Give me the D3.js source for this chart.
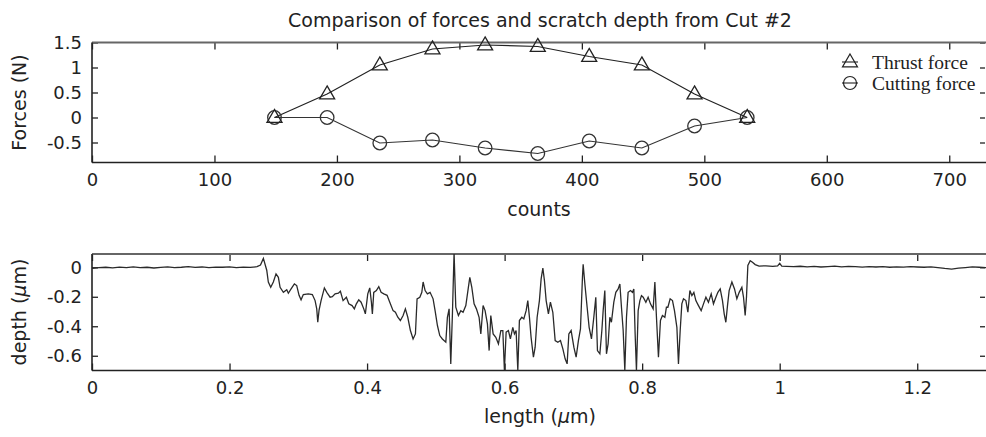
<!DOCTYPE html>
<html>
<head>
<meta charset="utf-8">
<script src="https://cdn.jsdelivr.net/npm/d3@7"></script>
<style>
  body { margin: 0; background: #fff; }
  svg { display: block; }
  text { font-family: "DejaVu Sans", sans-serif; fill: #222; }
</style>
</head>
<body>
<svg id="chart" width="986" height="437"></svg>
<script>
// ---- Force measurements along the cut ----
const forceCounts  = [149, 192, 235, 278, 321, 364, 406, 449, 492, 535];
const thrustForce  = [0, 0.47, 1.05, 1.37, 1.45, 1.42, 1.22, 1.05, 0.47, 0];
const cuttingForce = [0, 0.0, -0.51, -0.45, -0.61, -0.72, -0.47, -0.61, -0.17, 0];

// ---- Scratch depth profile ----
const depthLength = [
  0.000, 0.010, 0.020, 0.030, 0.040, 0.050, 0.060, 0.070, 0.080, 0.090,
  0.100, 0.110, 0.120, 0.130, 0.140, 0.150, 0.160, 0.170, 0.180, 0.190,
  0.200, 0.210, 0.220, 0.230, 0.240, 0.245,
  0.2492, 0.2541, 0.2564, 0.2599, 0.2637, 0.2676, 0.2710, 0.2735, 0.2783, 0.2832,
  0.2855, 0.2895, 0.2943, 0.2977, 0.3011, 0.3040, 0.3073, 0.3146, 0.3204, 0.3244,
  0.3268, 0.3283, 0.3302, 0.3331, 0.3379, 0.3414, 0.3462, 0.3495, 0.3535, 0.3583,
  0.3612, 0.3651, 0.3699, 0.3734, 0.3782, 0.3815, 0.3844, 0.3879, 0.3913, 0.3952,
  0.3975, 0.4010, 0.4039, 0.4063, 0.4077, 0.4097, 0.4135, 0.4170, 0.4204, 0.4243,
  0.4291, 0.4330, 0.4378, 0.4412, 0.4447, 0.4484, 0.4524, 0.4557, 0.4592, 0.4630,
  0.4669, 0.4703, 0.4727, 0.4767, 0.4796, 0.4815, 0.4844, 0.4877, 0.4916, 0.4960,
  0.4989, 0.5023, 0.5057, 0.5095, 0.5145, 0.5168, 0.5193, 0.5217, 0.5241, 0.5265,
  0.5290, 0.5328, 0.5363, 0.5396, 0.5436, 0.5473, 0.5494, 0.5523, 0.5556, 0.5590,
  0.5629, 0.5654, 0.5687, 0.5716, 0.5750, 0.5775, 0.5799, 0.5833, 0.5872, 0.5910,
  0.5945, 0.5974, 0.5997, 0.6022, 0.6055, 0.6084, 0.6119, 0.6143, 0.6167, 0.6192,
  0.6215, 0.6250, 0.6279, 0.6313, 0.6337, 0.6361, 0.6385, 0.6419, 0.6444, 0.6473,
  0.6506, 0.6531, 0.6556, 0.6579, 0.6604, 0.6637, 0.6666, 0.6701, 0.6735, 0.6774,
  0.6812, 0.6847, 0.6880, 0.6909, 0.6934, 0.6967, 0.7007, 0.7040, 0.7073, 0.7103,
  0.7132, 0.7142, 0.7167, 0.7200, 0.7229, 0.7263, 0.7297, 0.7326, 0.7350, 0.7385,
  0.7414, 0.7433, 0.7457, 0.7481, 0.7505, 0.7530, 0.7553, 0.7588, 0.7617, 0.7651,
  0.7676, 0.7699, 0.7724, 0.7748, 0.7772, 0.7796, 0.7830, 0.7859, 0.7879, 0.7898,
  0.7917, 0.7942, 0.7967, 0.7990, 0.8015, 0.8054, 0.8087, 0.8121, 0.8160, 0.8185,
  0.8208, 0.8237, 0.8266, 0.8295, 0.8330, 0.8353, 0.8374, 0.8407, 0.8441, 0.8470,
  0.8505, 0.8528, 0.8553, 0.8577, 0.8601, 0.8636, 0.8665, 0.8694, 0.8723, 0.8752,
  0.8781, 0.8819, 0.8858, 0.8892, 0.8927, 0.8964, 0.9004, 0.9037, 0.9072, 0.9101,
  0.9135, 0.9168, 0.9193, 0.9217, 0.9241, 0.9265, 0.9305, 0.9343, 0.9377, 0.9411,
  0.9450, 0.9474, 0.9498, 0.9517, 0.9537, 0.9571, 0.9604, 0.9644,
  0.970, 0.980, 0.990, 0.997, 1.000, 1.003, 1.010, 1.020, 1.030, 1.040,
  1.050, 1.060, 1.070, 1.080, 1.090, 1.100, 1.110, 1.120, 1.130, 1.140,
  1.150, 1.160, 1.170, 1.180, 1.190, 1.200, 1.210, 1.220, 1.230, 1.240,
  1.250, 1.260, 1.270, 1.280, 1.290, 1.300
];
const depthValue = [
  -0.008, -0.002, 0.000, -0.004, 0.001, -0.003, 0.002, -0.002, 0.000, -0.005,
  -0.001, 0.003, -0.002, 0.000, 0.004, -0.001, 0.002, -0.003, 0.001, 0.000,
  0.003, -0.002, 0.001, -0.001, 0.004, 0.015,
  0.060, -0.020, -0.100, -0.135, -0.100, -0.045, -0.068, -0.136, -0.170, -0.153,
  -0.176, -0.147, -0.113, -0.124, -0.190, -0.221, -0.185, -0.180, -0.185, -0.226,
  -0.282, -0.373, -0.290, -0.226, -0.140, -0.170, -0.203, -0.199, -0.180, -0.176,
  -0.163, -0.226, -0.203, -0.248, -0.260, -0.282, -0.248, -0.221, -0.237, -0.282,
  -0.316, -0.180, -0.140, -0.237, -0.316, -0.170, -0.158, -0.131, -0.170, -0.180,
  -0.190, -0.237, -0.294, -0.305, -0.339, -0.361, -0.327, -0.282, -0.339, -0.429,
  -0.486, -0.452, -0.214, -0.203, -0.170, -0.100, -0.158, -0.180, -0.170, -0.214,
  -0.294, -0.395, -0.463, -0.486, -0.508, -0.339, -0.282, -0.655, -0.316, 0.100,
  -0.271, -0.327, -0.294, -0.305, -0.260, -0.136, -0.068, -0.136, -0.248, -0.282,
  -0.339, -0.452, -0.260, -0.294, -0.384, -0.565, -0.327, -0.452, -0.475, -0.519,
  -0.429, -0.429, -0.700, -0.440, -0.429, -0.486, -0.407, -0.452, -0.429, -0.700,
  -0.361, -0.339, -0.350, -0.294, -0.226, -0.339, -0.475, -0.610, -0.542, -0.339,
  -0.226, -0.079, -0.005, -0.090, -0.226, -0.316, -0.237, -0.305, -0.497, -0.508,
  -0.497, -0.553, -0.621, -0.655, -0.452, -0.429, -0.542, -0.610, -0.497, -0.418,
  -0.068, 0.020, -0.113, -0.271, -0.407, -0.486, -0.339, -0.203, -0.565, -0.587,
  -0.429, -0.294, -0.158, -0.587, -0.519, -0.339, -0.373, -0.237, -0.170, -0.147,
  -0.113, -0.271, -0.429, -0.700, -0.339, -0.170, -0.158, -0.170, -0.147, -0.452,
  -0.700, -0.294, -0.226, -0.192, -0.203, -0.237, -0.203, -0.248, -0.282, -0.100,
  -0.339, -0.610, -0.361, -0.327, -0.339, -0.271, -0.271, -0.214, -0.226, -0.294,
  -0.407, -0.655, -0.429, -0.248, -0.214, -0.226, -0.305, -0.158, -0.192, -0.170,
  -0.226, -0.260, -0.294, -0.248, -0.203, -0.237, -0.180, -0.248, -0.203, -0.170,
  -0.147, -0.226, -0.316, -0.373, -0.260, -0.158, -0.100, -0.147, -0.214, -0.170,
  -0.136, -0.203, -0.327, -0.203, 0.012, 0.045, 0.034, 0.018,
  0.008, 0.010, 0.006, 0.010, 0.027, 0.008, 0.006, 0.004, 0.007, 0.003,
  0.006, 0.002, 0.005, 0.008, 0.003, 0.006, 0.004, 0.001, 0.005, 0.002,
  0.004, 0.000, 0.003, 0.001, 0.004, 0.002, 0.000, 0.003, -0.002, -0.008,
  -0.012, -0.006, -0.002, 0.003, 0.000, -0.002
];

// ---- Tick values ----
const countTicks  = [0, 100, 200, 300, 400, 500, 600, 700];
const forceTicks  = [-0.5, 0, 0.5, 1, 1.5];
const lengthTicks = [0, 0.2, 0.4, 0.6, 0.8, 1, 1.2];
const depthTicks  = [-0.6, -0.4, -0.2, 0];

const titleText = "Comparison of forces and scratch depth from Cut #2";
const legendLabels = ["Thrust force", "Cutting force"];

const svg = d3.select("#chart");
const ink = "#222";
const fmt = d => String(d);

// Scales
const left = 92, right = 986;
const xF = d3.scaleLinear().domain([0, 730]).range([left, right]);
const yF = d3.scaleLinear().domain([-0.9, 1.5]).range([162.5, 42.5]);
const xD = d3.scaleLinear().domain([0, 1.3]).range([left, right]);
const yD = d3.scaleLinear().domain([-0.7, 0.09]).range([370.5, 254]);

function frame(xs, ys, xt, yt) {
  const [x0, x1] = xs.range();
  const [yb, yt0] = ys.range();
  const g = svg.append("g");
  const style = a => a.select(".domain").remove();
  g.append("g").attr("transform", `translate(0,${yb})`)
    .call(d3.axisBottom(xs).tickValues(xt).tickFormat(fmt).tickSize(-7).tickPadding(11))
    .call(style);
  g.append("g").attr("transform", `translate(0,${yt0})`)
    .call(d3.axisTop(xs).tickValues(xt).tickFormat("").tickSize(-7))
    .call(style);
  g.append("g").attr("transform", `translate(${x0},0)`)
    .call(d3.axisLeft(ys).tickValues(yt).tickFormat(fmt).tickSize(-6).tickPadding(10))
    .call(style);
  g.append("g").attr("transform", `translate(${x1 - 1},0)`)
    .call(d3.axisRight(ys).tickValues(yt).tickFormat("").tickSize(-5))
    .call(style);
  g.selectAll(".tick line").attr("stroke", ink).attr("stroke-width", 1.3);
  g.selectAll(".tick text").attr("font-size", 18).attr("font-family", "DejaVu Sans, sans-serif").attr("fill", ink);
  // plot box
  g.append("line").attr("x1", x0).attr("x2", x1 + 2).attr("y1", yt0).attr("y2", yt0)
    .attr("stroke", "#666").attr("stroke-width", 2);
  g.append("line").attr("x1", x0).attr("x2", x1 + 2).attr("y1", yb).attr("y2", yb)
    .attr("stroke", ink).attr("stroke-width", 1.6);
  g.append("line").attr("x1", x0).attr("x2", x0).attr("y1", yt0).attr("y2", yb)
    .attr("stroke", ink).attr("stroke-width", 1.6);
  return g;
}

// Axis label with an italic micro sign
function unitLabel(sel, name) {
  sel.append("tspan").text(name + " (");
  sel.append("tspan").style("font-style", "italic").text("\u03bc");
  sel.append("tspan").text("m)");
}

// ---- Top panel: forces ----
frame(xF, yF, countTicks, forceTicks);

const thrustPts = forceCounts.map((c, i) => [xF(c), yF(thrustForce[i])]);
const cuttingPts = forceCounts.map((c, i) => [xF(c), yF(cuttingForce[i])]);
const line = d3.line();

svg.append("path").attr("d", line(cuttingPts)).attr("fill", "none").attr("stroke", "#333").attr("stroke-width", 1.2);
svg.append("path").attr("d", line(thrustPts)).attr("fill", "none").attr("stroke", "#222").attr("stroke-width", 1.2);

const triPath = (cx, cy) => {
  const w = 15, h = 13;
  return `M${cx},${cy - h * 0.62}L${cx + w / 2},${cy + h * 0.38}L${cx - w / 2},${cy + h * 0.38}Z`;
};

svg.append("g").selectAll("circle").data(cuttingPts).join("circle")
  .attr("cx", d => d[0]).attr("cy", d => d[1]).attr("r", 6.8)
  .attr("fill", "none").attr("stroke", "#333").attr("stroke-width", 1.3);
svg.append("g").selectAll("path").data(thrustPts).join("path")
  .attr("d", d => triPath(d[0], d[1]))
  .attr("fill", "none").attr("stroke", "#222").attr("stroke-width", 1.3);

// legend
const legX = 850, legY = [62, 83];
const leg = svg.append("g");
leg.append("line").attr("x1", legX - 8).attr("x2", legX + 8).attr("y1", legY[0]).attr("y2", legY[0]).attr("stroke", ink).attr("stroke-width", 1.1);
leg.append("path").attr("d", triPath(legX, legY[0])).attr("fill", "none").attr("stroke", ink).attr("stroke-width", 1.2);
leg.append("line").attr("x1", legX - 8).attr("x2", legX + 8).attr("y1", legY[1]).attr("y2", legY[1]).attr("stroke", ink).attr("stroke-width", 1.1);
leg.append("circle").attr("cx", legX).attr("cy", legY[1]).attr("r", 6.5).attr("fill", "none").attr("stroke", ink).attr("stroke-width", 1.2);
leg.selectAll("text").data(legendLabels).join("text")
  .attr("x", 872).attr("y", (d, i) => legY[i]).attr("dy", "0.35em")
  .style("font-family", "'Liberation Serif', 'Times New Roman', serif")
  .attr("font-size", 19.5).text(d => d);

// titles and labels
svg.append("text").attr("x", 540).attr("y", 27).attr("text-anchor", "middle").attr("font-size", 19).text(titleText);
svg.append("text").attr("x", 539).attr("y", 216).attr("text-anchor", "middle").attr("font-size", 19).text("counts");
svg.append("text").attr("transform", "translate(26,102.5) rotate(-90)").attr("text-anchor", "middle").attr("font-size", 19).text("Forces (N)");

// ---- Bottom panel: depth ----
frame(xD, yD, lengthTicks, depthTicks);

svg.append("clipPath").attr("id", "depthClip").append("rect")
  .attr("x", left).attr("y", 254).attr("width", right - left).attr("height", 370.5 - 254);

const depthPts = depthLength.map((l, i) => [xD(l), yD(depthValue[i])]);
svg.append("path").attr("d", line(depthPts)).attr("clip-path", "url(#depthClip)")
  .attr("fill", "none").attr("stroke", "#2a2a2a").attr("stroke-width", 1.3).attr("stroke-linejoin", "miter");

svg.append("text").attr("x", 540).attr("y", 423).attr("text-anchor", "middle").attr("font-size", 19)
  .call(unitLabel, "length");
svg.append("text").attr("transform", "translate(26,312) rotate(-90)").attr("text-anchor", "middle").attr("font-size", 19)
  .call(unitLabel, "depth");
</script>
</body>
</html>
